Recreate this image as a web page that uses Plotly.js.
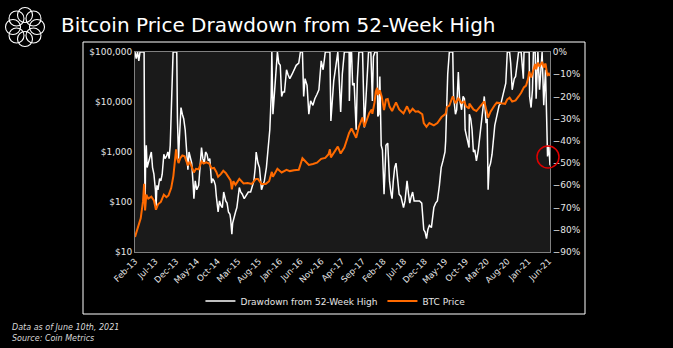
<!DOCTYPE html>
<html><head><meta charset="utf-8">
<script src="https://cdn.plot.ly/plotly-3.0.1.min.js"></script>
<style>html,body{margin:0;padding:0;background:#000;}#chart{width:673px;height:348px;}</style>
</head><body><div id="chart"></div>
<script>
const priceDates = ["2013-02-01","2013-02-15","2013-03-01","2013-03-15","2013-04-01","2013-04-09","2013-04-16","2013-04-25","2013-05-10","2013-06-01","2013-06-20","2013-07-05","2013-07-20","2013-08-10","2013-09-01","2013-09-20","2013-10-05","2013-10-25","2013-11-10","2013-11-20","2013-11-30","2013-12-07","2013-12-18","2013-12-31","2014-01-15","2014-02-01","2014-02-25","2014-03-10","2014-04-10","2014-04-25","2014-05-15","2014-06-05","2014-06-20","2014-07-10","2014-08-01","2014-08-18","2014-09-05","2014-09-22","2014-10-05","2014-10-25","2014-11-12","2014-11-30","2014-12-20","2015-01-05","2015-01-14","2015-01-25","2015-02-10","2015-03-10","2015-04-10","2015-05-10","2015-06-10","2015-07-10","2015-07-25","2015-08-20","2015-09-20","2015-10-15","2015-11-04","2015-11-12","2015-12-15","2016-01-15","2016-02-20","2016-03-15","2016-04-15","2016-05-20","2016-06-16","2016-07-05","2016-08-02","2016-09-01","2016-10-01","2016-11-01","2016-12-01","2016-12-25","2017-01-04","2017-01-11","2017-02-01","2017-03-03","2017-03-24","2017-04-20","2017-05-10","2017-05-25","2017-06-12","2017-06-27","2017-07-16","2017-08-05","2017-09-01","2017-09-14","2017-10-01","2017-10-20","2017-11-07","2017-11-12","2017-11-28","2017-12-07","2017-12-17","2017-12-22","2018-01-06","2018-01-20","2018-02-06","2018-02-20","2018-03-05","2018-03-18","2018-04-06","2018-05-05","2018-05-28","2018-06-29","2018-07-25","2018-08-14","2018-09-04","2018-09-25","2018-10-15","2018-11-14","2018-11-25","2018-12-15","2019-01-05","2019-02-07","2019-03-05","2019-04-05","2019-05-05","2019-05-15","2019-06-01","2019-06-26","2019-07-16","2019-08-06","2019-08-30","2019-09-20","2019-09-30","2019-10-24","2019-10-26","2019-11-25","2019-12-17","2020-01-10","2020-02-13","2020-03-12","2020-03-30","2020-04-30","2020-05-15","2020-06-15","2020-07-15","2020-07-31","2020-08-17","2020-09-05","2020-09-30","2020-10-22","2020-11-10","2020-11-30","2020-12-16","2020-12-31","2021-01-08","2021-01-22","2021-02-08","2021-02-21","2021-02-28","2021-03-13","2021-03-25","2021-04-13","2021-04-25","2021-05-08","2021-05-19","2021-05-23","2021-06-01","2021-06-08","2021-06-10"];
const priceValues = [20,27,34,47,104,230,68,140,117,128,108,70,90,100,140,125,135,190,330,700,1130,770,600,750,850,820,540,640,390,460,450,650,590,620,590,470,480,400,320,360,420,380,320,270,180,260,220,290,235,240,230,290,290,230,230,260,400,320,460,390,440,415,430,440,750,670,550,575,610,730,760,900,1130,780,980,1280,930,1230,1800,2400,2950,2400,1930,3200,4900,3200,4400,6000,7100,5800,9800,16000,19300,13800,17200,12800,6900,11200,11500,8200,6600,9800,7100,5900,8200,6200,7300,6400,6500,5700,3800,3200,3800,3400,3800,5000,5800,8000,8500,12900,9400,11800,9600,10200,8300,7400,9300,7100,6600,8000,10300,4900,6400,8700,9700,9400,9200,11300,12200,10200,10800,12900,15300,19600,21300,29000,40800,30800,46000,57500,45000,61200,51000,63500,49000,58800,37000,34700,36700,33500,36700];

const ddDates = ["2013-02-01","2013-02-10","2013-02-20","2013-03-01","2013-03-10","2013-03-20","2013-04-01","2013-04-09","2013-04-12","2013-04-16","2013-04-20","2013-04-25","2013-05-01","2013-05-10","2013-05-20","2013-06-01","2013-06-10","2013-06-20","2013-07-01","2013-07-06","2013-07-12","2013-07-20","2013-08-01","2013-08-10","2013-08-20","2013-09-01","2013-09-10","2013-09-20","2013-10-01","2013-10-10","2013-10-18","2013-10-25","2013-11-01","2013-11-08","2013-11-18","2013-11-30","2013-12-05","2013-12-10","2013-12-18","2013-12-25",
"2014-01-05","2014-01-15","2014-01-25","2014-02-05","2014-02-15","2014-02-25","2014-03-05","2014-03-15","2014-03-25","2014-04-05","2014-04-10","2014-04-20","2014-05-01","2014-05-15","2014-05-25","2014-06-05","2014-06-15","2014-06-25","2014-07-05","2014-07-15","2014-07-25","2014-08-05","2014-08-18","2014-08-25","2014-09-05","2014-09-15","2014-09-22","2014-10-05","2014-10-15","2014-10-25","2014-11-05","2014-11-15","2014-11-30","2014-12-10","2014-12-20","2014-12-31",
"2015-01-05","2015-01-14","2015-01-20","2015-01-30","2015-02-10","2015-02-20","2015-03-01","2015-03-10","2015-03-20","2015-04-01","2015-04-15","2015-05-01","2015-05-15","2015-06-01","2015-06-15","2015-06-25","2015-07-05","2015-07-12","2015-07-25","2015-08-05","2015-08-20","2015-08-30","2015-09-10","2015-09-25","2015-10-10","2015-10-20","2015-10-30","2015-11-04","2015-11-12","2015-11-20","2015-12-01","2015-12-15","2015-12-25",
"2016-01-05","2016-01-15","2016-01-25","2016-02-05","2016-02-20","2016-03-01","2016-03-15","2016-04-01","2016-04-15","2016-05-01","2016-05-20","2016-06-01","2016-06-16","2016-06-25","2016-07-05","2016-07-20","2016-08-02","2016-08-15","2016-09-01","2016-09-15","2016-10-01","2016-10-15","2016-11-01","2016-11-15","2016-12-01","2016-12-15","2016-12-25",
"2017-01-04","2017-01-11","2017-01-20","2017-02-01","2017-02-15","2017-03-03","2017-03-10","2017-03-18","2017-03-24","2017-04-05","2017-04-20","2017-05-05","2017-05-15","2017-05-25","2017-05-27","2017-06-05","2017-06-12","2017-06-20","2017-07-01","2017-07-16","2017-07-25","2017-08-05","2017-08-15","2017-09-01","2017-09-14","2017-09-25","2017-10-05","2017-10-15","2017-11-01","2017-11-12","2017-11-20","2017-12-01","2017-12-07","2017-12-17","2017-12-22","2017-12-30",
"2018-01-06","2018-01-16","2018-01-25","2018-02-06","2018-02-12","2018-02-20","2018-03-05","2018-03-18","2018-03-30","2018-04-06","2018-04-15","2018-04-25","2018-05-05","2018-05-15","2018-05-28","2018-06-10","2018-06-29","2018-07-10","2018-07-25","2018-08-05","2018-08-14","2018-08-25","2018-09-04","2018-09-15","2018-09-25","2018-10-10","2018-10-25","2018-11-10","2018-11-20","2018-11-25","2018-12-05","2018-12-15","2018-12-25",
"2019-01-05","2019-01-20","2019-02-07","2019-02-20","2019-03-05","2019-03-20","2019-04-02","2019-04-15","2019-04-30","2019-05-05","2019-05-12","2019-05-20","2019-06-01","2019-06-15","2019-06-26","2019-07-02","2019-07-16","2019-07-25","2019-08-06","2019-08-15","2019-08-30","2019-09-10","2019-09-20","2019-09-25","2019-10-05","2019-10-24","2019-10-26","2019-11-05","2019-11-15","2019-11-25","2019-12-05","2019-12-17","2019-12-31",
"2020-01-10","2020-01-20","2020-02-01","2020-02-13","2020-02-26","2020-03-05","2020-03-12","2020-03-20","2020-03-30","2020-04-10","2020-04-30","2020-05-10","2020-05-20","2020-06-01","2020-06-15","2020-06-26","2020-07-10","2020-07-20","2020-07-31","2020-08-17","2020-08-25","2020-09-05","2020-09-20","2020-09-30","2020-10-10","2020-10-22","2020-11-05","2020-11-10","2020-11-26","2020-12-01","2020-12-16","2020-12-31",
"2021-01-08","2021-01-11","2021-01-22","2021-02-01","2021-02-08","2021-02-21","2021-02-28","2021-03-13","2021-03-25","2021-04-13","2021-04-25","2021-05-08","2021-05-12","2021-05-19","2021-05-23","2021-06-01","2021-06-08","2021-06-10"];
const ddValues = [0,-3,0,-4,0,0,0,0,-40,-70,-50,-42,-52,-50,-47,-45,-52,-55,-62,-70,-60,-62,-57,-58,-55,-46,-48,-47,-45,-48,-42,-25,-15,0,0,0,0,-30,-48,-38,
-25,-28,-30,-35,-45,-53,-45,-48,-50,-60,-66,-58,-62,-60,-50,-43,-48,-50,-45,-46,-49,-48,-59,-57,-58,-60,-65,-72,-67,-69,-70,-63,-67,-68,-72,-73,
-75,-82,-77,-74,-72,-70,-66,-61,-63,-64,-66,-64,-63,-63,-60,-58,-52,-45,-50,-52,-62,-60,-58,-52,-42,-35,-20,0,-28,-22,-12,0,-5,
-6,-20,-18,-18,-8,-10,-12,-10,-8,-6,-5,0,0,-20,-12,-15,-28,-22,-24,-21,-19,-17,-4,-8,0,0,0,
0,-31,-22,-13,-7,0,-8,-25,-27,-10,0,0,0,0,-22,0,0,-15,-14,-35,-12,0,0,0,-34,-22,-10,0,0,-22,-2,0,0,0,-29,-28,
-11,-42,-44,-64,-55,-42,-41,-58,-64,-66,-58,-52,-50,-56,-64,-65,-70,-67,-58,-64,-68,-65,-63,-67,-67,-67,-67,-68,-78,-80,-81,-84,-80,
-78,-79,-70,-68,-67,-60,-52,-49,-45,-40,-20,-10,0,0,0,-20,-28,-26,-9,-21,-26,-20,-21,-35,-38,-43,-28,-30,-35,-45,-44,-49,-44,
-38,-34,-28,-20,-32,-30,-62,-52,-50,-46,-33,-30,-26,-24,-23,-20,-17,-14,0,0,-5,-17,-12,-11,-6,0,0,0,-12,0,0,0,
0,-20,-25,-17,0,0,-21,0,-17,0,-24,-8,-22,-42,-47,-42,-48,-51];

const priceTickVals = [10,100,1000,10000,100000];
const priceTickText = ["$10","$100","$1,000","$10,000","$100,000"];

// pixel helpers for plot area (x 135..550, y 52..252)
const PX = p => (p - 135) / 415;
const PY = p => (252 - p) / 200;

const shapes = [
  {type:'rect', xref:'paper', yref:'paper', x0:PX(83), x1:PX(585), y0:PY(314), y1:PY(42), line:{color:'#ffffff', width:1}, fillcolor:'rgba(0,0,0,0)', layer:'below'},
  {type:'circle', xref:'paper', yref:'paper', x0:PX(537), x1:PX(559), y0:PY(168), y1:PY(146), line:{color:'#e00000', width:1.5}}
];
// logo: ring of interlocking loops
for (let i = 0; i < 8; i++) {
  const a = i * Math.PI / 4;
  const cx = 25 + 12 * Math.cos(a), cy = 27 + 12 * Math.sin(a);
  shapes.push({type:'circle', xref:'paper', yref:'paper', x0:PX(cx-7.5), x1:PX(cx+7.5), y0:PY(cy+7.5), y1:PY(cy-7.5), line:{color:'#ffffff', width:1.1}});
}

const traces = [
  {x: ddDates, y: ddValues, name: 'Drawdown from 52-Week High', type: 'scatter', mode: 'lines', yaxis: 'y', line: {color: '#ffffff', width: 1.5}},
  {x: priceDates, y: priceValues, name: 'BTC Price', type: 'scatter', mode: 'lines', yaxis: 'y2', line: {color: '#ff6a00', width: 2}}
];

const layout = {
  width: 673, height: 348,
  margin: {l: 135, r: 123, t: 52, b: 96},
  paper_bgcolor: '#000000', plot_bgcolor: '#1a1a1a',
  font: {family: 'DejaVu Sans', color: '#e6e6e6', size: 9},
  showlegend: true,
  legend: {orientation: 'h', x: 0.483, xanchor: 'center', y: -0.245, yanchor: 'middle', font: {size: 9, color: '#e6e6e6'}, bgcolor: 'rgba(0,0,0,0)', itemwidth: 30},
  xaxis: {type: 'date', range: ['2013-02-01', '2021-06-10'], tick0: '2013-02-01', dtick: 'M5', tickformat: '%b-%y', tickangle: -45,
          showgrid: false, zeroline: false, showline: true, mirror: true, linecolor: '#808080', linewidth: 1, ticks: '', tickfont: {size: 8.5}},
  yaxis: {range: [-90, 0], dtick: 10, ticksuffix: '%', side: 'right', showgrid: false, zeroline: false, showline: true, linecolor: '#808080', ticks: '', tickfont: {size: 9}},
  yaxis2: {type: 'log', range: [1, 5], tickvals: priceTickVals, ticktext: priceTickText, side: 'left', overlaying: 'y', showgrid: false, zeroline: false, showline: true, linecolor: '#808080', ticks: '', tickfont: {size: 9}},
  shapes: shapes,
  annotations: [
    {text: 'Bitcoin Price Drawdown from 52-Week High', xref: 'paper', yref: 'paper', x: PX(59), y: PY(25), xanchor: 'left', yanchor: 'middle', showarrow: false, font: {size: 20, color: '#ffffff', family: 'DejaVu Sans'}},
    {text: '<i>Data as of June 10th, 2021</i>', xref: 'paper', yref: 'paper', x: PX(10), y: PY(327), xanchor: 'left', yanchor: 'middle', showarrow: false, font: {size: 8, color: '#d9d9d9'}},
    {text: '<i>Source: Coin Metrics</i>', xref: 'paper', yref: 'paper', x: PX(10), y: PY(338), xanchor: 'left', yanchor: 'middle', showarrow: false, font: {size: 8, color: '#d9d9d9'}}
  ]
};

Plotly.newPlot('chart', traces, layout, {displayModeBar: false, staticPlot: true});
</script></body></html>
